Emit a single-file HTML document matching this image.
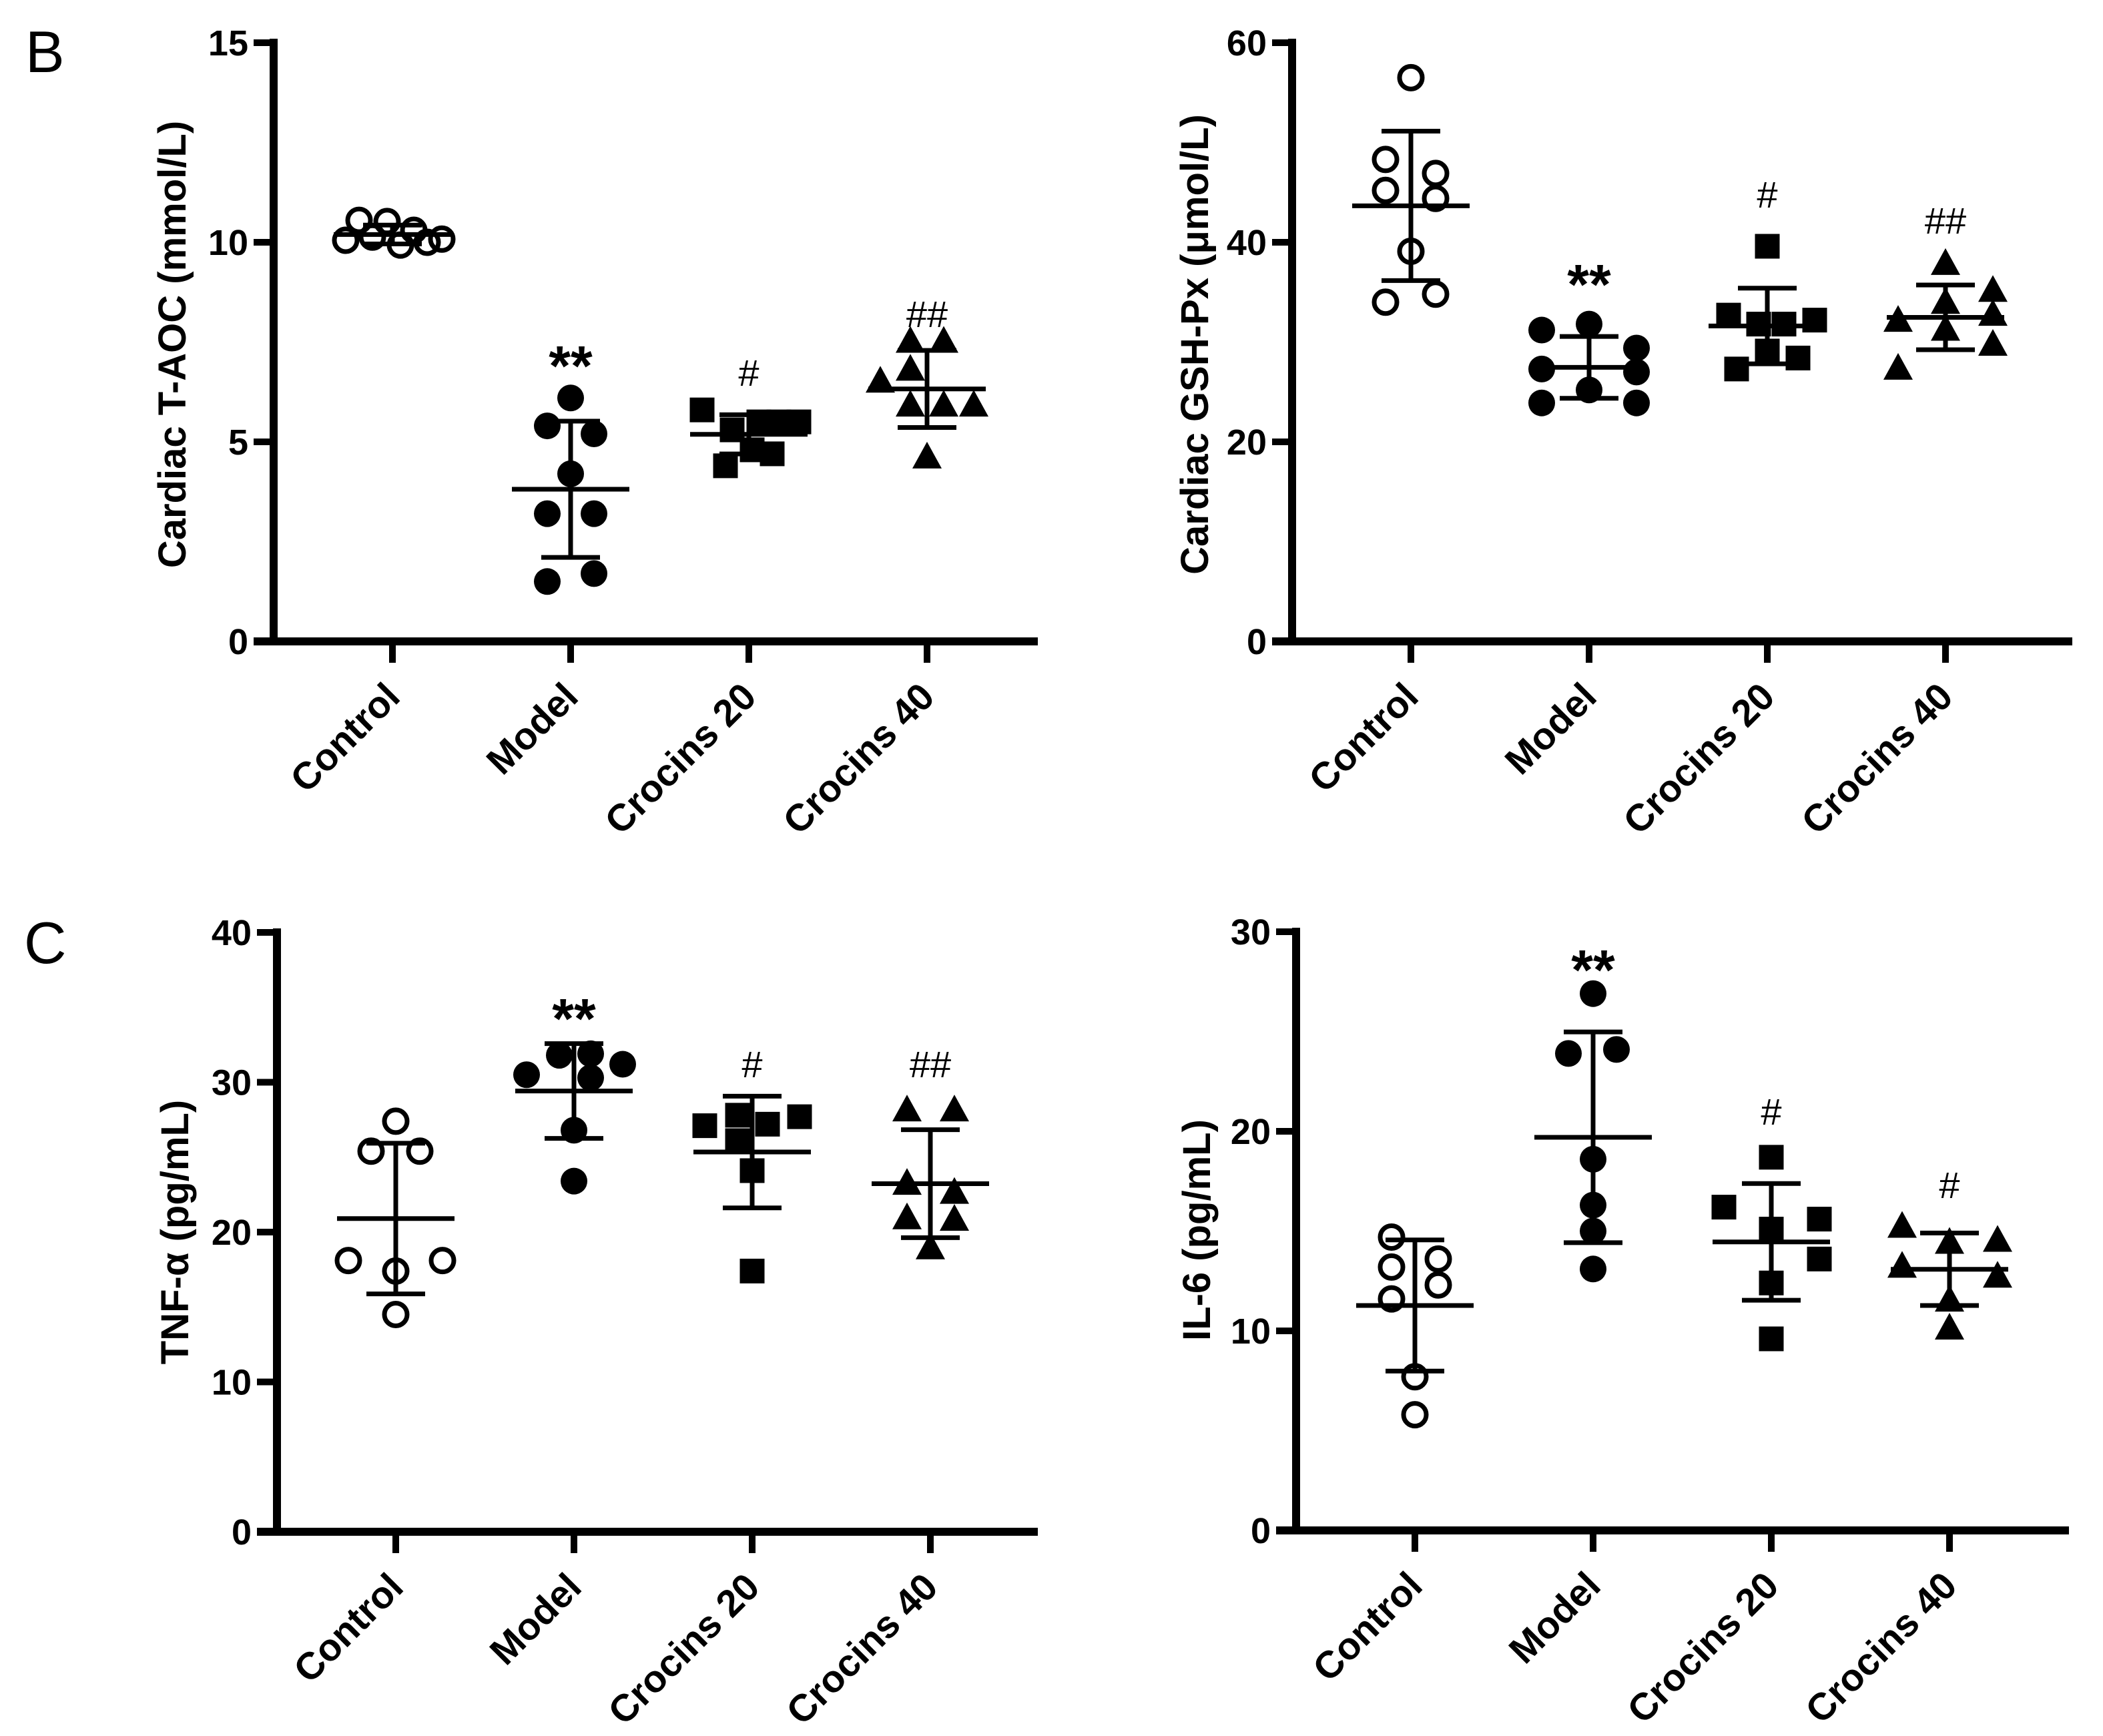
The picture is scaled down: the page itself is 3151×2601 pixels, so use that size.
<!DOCTYPE html>
<html><head><meta charset="utf-8"><style>
html,body{margin:0;padding:0;background:#fff;}
svg{display:block;font-family:"Liberation Sans",Arial,sans-serif;}
</style></head><body>
<svg id="fig" width="3151" height="2601" viewBox="0 0 3151 2601" xmlns="http://www.w3.org/2000/svg">
<text x="38" y="108" font-size="88">B</text>
<text x="36" y="1443" font-size="88">C</text>
</svg>
<script>
const categories = ["Control","Model","Crocins 20","Crocins 40"];
// T-AOC (mmol/L)
const taocControl = [10.05,10.55,10.13,10.52,9.93,10.30,10.0,10.08];
const taocModel = [6.1,5.4,5.2,4.2,3.2,3.2,1.5,1.7];
const taocCro20 = [5.8,5.3,5.5,5.5,5.5,4.4,4.8,4.7];
const taocCro40 = [6.5,7.5,7.5,6.8,5.9,5.9,5.9,4.6];
const taocTicks = [0,5,10,15];
// GSH-Px (umol/L)
const gshControl = [56.5,48.3,46.9,45.2,44.4,39.1,34.0,34.8];
const gshModel = [31.2,31.8,29.4,27.3,27.0,25.2,23.9,23.9];
const gshCro20 = [39.6,32.7,31.8,31.8,32.2,29.1,27.3,28.4];
const gshCro40 = [37.8,35.1,33.9,32.7,32.1,31.2,29.7,27.3];
const gshTicks = [0,20,40,60];
// TNF-a (pg/mL)
const tnfControl = [27.4,25.4,25.4,18.1,18.1,17.4,14.5];
const tnfModel = [30.5,31.8,31.9,31.2,30.3,26.8,23.4];
const tnfCro20 = [27.1,27.8,27.2,27.7,26.1,24.1,17.4];
const tnfCro40 = [28.1,28.1,23.2,22.6,20.9,20.8,18.9];
const tnfTicks = [0,10,20,30,40];
// IL-6 (pg/mL)
const il6Control = [14.7,13.2,13.6,12.3,11.6,7.7,5.8];
const il6Model = [26.9,23.9,24.1,18.6,16.3,15.0,13.1];
const il6Cro20 = [18.7,16.2,15.6,15.1,13.6,12.4,9.6];
const il6Cro40 = [15.2,14.4,14.5,13.2,12.7,11.5,10.1];
const il6Ticks = [0,10,20,30];
const taocMarks = ["**","#","##"];
const gshMarks = ["**","#","##"];
const tnfMarks = ["**","#","##"];
const il6Marks = ["**","#","#"];

// layout (pixel jitter, not data)
const layout = {
 taoc:{ax:410,y0:961,yt:64,xend:1555,jit:[[-70,-50,-30,-8,12,32,52,74],[0,-35,35,0,-35,35,-35,35],[-70,-25,15,45,75,-35,5,35],[-70,-25,25,-25,-25,25,70,0]],mk:[535,558,470],title:"Cardiac T-AOC (mmol/L)",tx:258,ty:516,name:"taoc"},
 gsh:{ax:1936,y0:961,yt:64,xend:3105,jit:[[0,-38,37,-38,37,0,-38,37],[-71,0,71,-71,71,0,-71,71],[0,-58,-13,25,71,0,-46,46],[0,71,0,71,-71,0,71,-71]],mk:[413,291,330],title:"Cardiac GSH-Px (\u03bcmol/L)",tx:1790,ty:516,name:"gsh"},
 tnf:{ax:415,y0:2295,yt:1397,xend:1555,jit:[[0,-37,36,-71,70,0,0],[-71,-22,25,73,25,0,0],[-71,-22,23,71,-22,0,0],[-35,36,-35,36,-35,36,0]],mk:[1513,1594,1594],title:"TNF-\u03b1 (pg/mL)",tx:262,ty:1846,name:"tnf"},
 il6:{ax:1942,y0:2293,yt:1396,xend:3100,jit:[[-35,-35,35,35,-35,0,0],[0,-37,35,0,0,0,0],[0,-71,72,0,72,0,0],[-71,0,72,-71,72,0,0]],mk:[1440,1665,1775],title:"IL-6 (pg/mL)",tx:1793,ty:1843,name:"il6"}
};
const NS="http://www.w3.org/2000/svg";
const svg=document.getElementById('fig');
function mk(tag,attrs,parent){const e=document.createElementNS(NS,tag);for(const k in attrs)e.setAttribute(k,attrs[k]);(parent||svg).appendChild(e);return e;}
function meanOf(a){return a.reduce((s,v)=>s+v,0)/a.length;}
function sdOf(a){const m=meanOf(a);return Math.sqrt(a.reduce((s,v)=>s+(v-m)*(v-m),0)/(a.length-1));}

function panel(L,groups,ticks,marks){
 const g=mk('g',{});
 
 
 const ymax=ticks[ticks.length-1];
 const y=v=>L.y0-(v/ymax)*(L.y0-L.yt);
 const cx=i=>L.ax+178+i*267;
 const ya=mk('line',{x1:L.ax,y1:L.yt-6,x2:L.ax,y2:L.y0+6,stroke:'#000','stroke-width':12},g);
 
 
 const xa=mk('line',{x1:L.ax-30,y1:L.y0,x2:L.xend,y2:L.y0,stroke:'#000','stroke-width':12},g);
 
 
 ticks.forEach(t=>{
  mk('line',{x1:L.ax-30,y1:y(t),x2:L.ax,y2:y(t),stroke:'#000','stroke-width':10},g);
  const tl=mk('text',{x:L.ax-38,y:y(t)+19,'font-size':54,'font-weight':'bold','text-anchor':'end'},g);
  tl.textContent=t;
  
  
 });
 const tt=mk('text',{x:0,y:0,'font-size':58,'font-weight':'bold','text-anchor':'middle',transform:`translate(${L.tx+20},${L.ty}) rotate(-90)`},g);
 tt.textContent=L.title;
 
 
 categories.forEach((c,i)=>{
  mk('line',{x1:cx(i),y1:L.y0,x2:cx(i),y2:L.y0+32,stroke:'#000','stroke-width':10},g);
  const cl=mk('text',{x:0,y:0,'font-size':57,'font-weight':'bold','text-anchor':'end',transform:`translate(${cx(i)-14},${L.y0+58}) rotate(-45) translate(0,40)`},g);
  cl.textContent=c;
  
  
 });
 groups.forEach((arr,i)=>{
  const gg=mk('g',{},g);
  
  
  arr.forEach((v,j)=>{
   const px=cx(i)+(L.jit[i][j]||0), py=y(v);
   let e;
   if(i===0) e=mk('circle',{cx:px,cy:py,r:17,fill:'none',stroke:'#000','stroke-width':7},gg);
   else if(i===1) e=mk('circle',{cx:px,cy:py,r:20,fill:'#000'},gg);
   else if(i===2) e=mk('rect',{x:px-18.5,y:py-18.5,width:37,height:37,fill:'#000'},gg);
   else e=mk('polygon',{points:`${px},${py-24} ${px-22},${py+16} ${px+22},${py+16}`,fill:'#000'},gg);
   
   
  });
  const m=meanOf(arr), s=sdOf(arr);
  const eb=mk('g',{stroke:'#000','stroke-width':7},gg);
  
  
  mk('line',{x1:cx(i),y1:y(m+s),x2:cx(i),y2:y(m-s)},eb);
  mk('line',{x1:cx(i)-44,y1:y(m+s),x2:cx(i)+44,y2:y(m+s)},eb);
  mk('line',{x1:cx(i)-44,y1:y(m-s),x2:cx(i)+44,y2:y(m-s)},eb);
  mk('line',{x1:cx(i)-88,y1:y(m),x2:cx(i)+88,y2:y(m)},eb);
  if(i>0){
   const st=mk('text',{x:cx(i),y:L.mk[i-1]+(i===1?42:20),'font-size':i===1?84:56,'font-weight':i===1?'bold':'normal','text-anchor':'middle'},gg);
   st.textContent=marks[i-1];
   
   
  }
 });
}
panel(layout.taoc,[taocControl,taocModel,taocCro20,taocCro40],taocTicks,taocMarks);
panel(layout.gsh,[gshControl,gshModel,gshCro20,gshCro40],gshTicks,gshMarks);
panel(layout.tnf,[tnfControl,tnfModel,tnfCro20,tnfCro40],tnfTicks,tnfMarks);
panel(layout.il6,[il6Control,il6Model,il6Cro20,il6Cro40],il6Ticks,il6Marks);
</script>
</body></html>
